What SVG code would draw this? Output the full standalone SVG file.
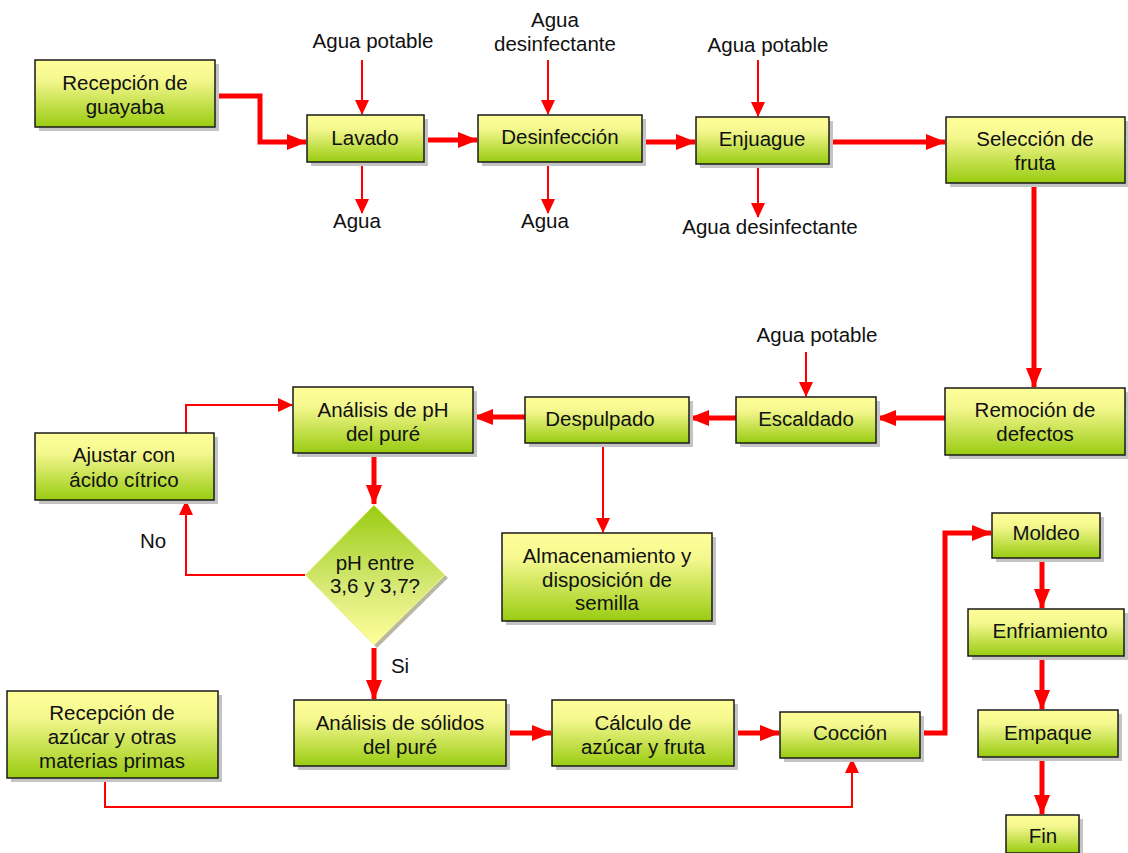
<svg xmlns="http://www.w3.org/2000/svg" width="1128" height="853" viewBox="0 0 1128 853">
<style>
.box{fill:url(#g);stroke:#1a1a1a;stroke-width:1.5}
.sh{fill:#c4c4c4}
text{font-family:"Liberation Sans",Arial,sans-serif;font-size:20.5px;fill:#111;text-anchor:middle}
.thick{fill:none;stroke:#ff0000;stroke-width:5;marker-end:url(#ah)}
.thin{fill:none;stroke:#ff0000;stroke-width:2;marker-end:url(#at)}
</style>
<defs>
<linearGradient id="g" x1="0" y1="0" x2="0" y2="1">
<stop offset="0" stop-color="#ffff99"/>
<stop offset="0.3" stop-color="#f4f78e"/>
<stop offset="1" stop-color="#99cc11"/>
</linearGradient>
<linearGradient id="gd" x1="0" y1="0" x2="0" y2="1">
<stop offset="0" stop-color="#99cc11"/>
<stop offset="0.6" stop-color="#d8ea78"/>
<stop offset="1" stop-color="#ffff99"/>
</linearGradient>
<marker id="ah" markerUnits="userSpaceOnUse" markerWidth="20" markerHeight="16" refX="19" refY="8" orient="auto">
<path d="M0,0 L20,8 L0,16 z" fill="#ff0000"/>
</marker>
<marker id="at" markerUnits="userSpaceOnUse" markerWidth="15" markerHeight="14" refX="14" refY="7" orient="auto">
<path d="M0,0 L15,7 L0,14 z" fill="#ff0000"/>
</marker>
</defs>
<rect width="1128" height="853" fill="#ffffff"/>

<g id="connectors">
<polyline class="thick" points="215,96 260,96 260,142 306,142"/>
<line class="thick" x1="427" y1="140" x2="477" y2="140"/>
<line class="thick" x1="643" y1="142" x2="695" y2="142"/>
<line class="thick" x1="830" y1="142" x2="945" y2="142"/>
<line class="thick" x1="1034" y1="184" x2="1034" y2="387"/>
<line class="thick" x1="945" y1="418" x2="877" y2="418"/>
<line class="thick" x1="736" y1="418" x2="690" y2="418"/>
<line class="thick" x1="525" y1="417" x2="474" y2="417"/>
<line class="thin" x1="603" y1="444" x2="603" y2="532"/>
<line class="thick" x1="374" y1="454" x2="374" y2="504"/>
<polyline class="thin" points="305,575 186,575 186,501"/>
<polyline class="thin" points="186,433 186,405 292,405"/>
<line class="thick" x1="374" y1="648" x2="374" y2="699"/>
<line class="thick" x1="507" y1="733" x2="551" y2="733"/>
<line class="thick" x1="735" y1="733" x2="779" y2="733"/>
<polyline class="thick" points="921,733 945,733 945,533 991,533"/>
<line class="thick" x1="1042" y1="559" x2="1042" y2="608"/>
<line class="thick" x1="1042" y1="657" x2="1042" y2="709"/>
<line class="thick" x1="1042" y1="758" x2="1042" y2="814"/>
<polyline class="thin" points="105,779 105,807 852,807 852,759"/>
<line class="thin" x1="362" y1="60" x2="362" y2="114"/>
<line class="thin" x1="362" y1="163" x2="362" y2="213"/>
<line class="thin" x1="548" y1="60" x2="548" y2="114"/>
<line class="thin" x1="548" y1="163" x2="548" y2="213"/>
<line class="thin" x1="758" y1="60" x2="758" y2="116"/>
<line class="thin" x1="758" y1="165" x2="758" y2="217"/>
<line class="thin" x1="806" y1="352" x2="806" y2="396"/>
</g>

<g id="labels">
<text x="373" y="48">Agua potable</text>
<text x="555" y="27">Agua</text>
<text x="555" y="51">desinfectante</text>
<text x="768" y="52">Agua potable</text>
<text x="357" y="228">Agua</text>
<text x="545" y="228">Agua</text>
<text x="770" y="234">Agua desinfectante</text>
<text x="817" y="342">Agua potable</text>
<text x="153" y="548">No</text>
<text x="400" y="673">Si</text>
</g>

<g id="n-recepcion-guayaba">
<rect class="sh" x="39" y="64" width="180" height="67"/>
<rect class="box" x="35" y="60" width="180" height="67"/>
<text x="125" y="90">Recepción de</text>
<text x="125" y="114">guayaba</text>
</g>
<g id="n-lavado">
<rect class="sh" x="311" y="119" width="117" height="47"/>
<rect class="box" x="307" y="115" width="117" height="47"/>
<text x="365" y="145">Lavado</text>
</g>
<g id="n-desinfeccion">
<rect class="sh" x="482" y="119" width="164" height="47"/>
<rect class="box" x="478" y="115" width="164" height="47"/>
<text x="560" y="144">Desinfección</text>
</g>
<g id="n-enjuague">
<rect class="sh" x="700" y="121" width="133" height="47"/>
<rect class="box" x="696" y="117" width="133" height="47"/>
<text x="762" y="146">Enjuague</text>
</g>
<g id="n-seleccion">
<rect class="sh" x="950" y="121" width="179" height="66"/>
<rect class="box" x="946" y="117" width="179" height="66"/>
<text x="1035" y="146">Selección de</text>
<text x="1035" y="170">fruta</text>
</g>
<g id="n-remocion">
<rect class="sh" x="949" y="392" width="180" height="67"/>
<rect class="box" x="945" y="388" width="180" height="67"/>
<text x="1035" y="417">Remoción de</text>
<text x="1035" y="441">defectos</text>
</g>
<g id="n-escaldado">
<rect class="sh" x="740" y="401" width="140" height="46"/>
<rect class="box" x="736" y="397" width="140" height="46"/>
<text x="806" y="426">Escaldado</text>
</g>
<g id="n-despulpado">
<rect class="sh" x="529" y="401" width="164" height="46"/>
<rect class="box" x="525" y="397" width="164" height="46"/>
<text x="600" y="426">Despulpado</text>
</g>
<g id="n-analisis-ph">
<rect class="sh" x="297" y="391" width="180" height="66"/>
<rect class="box" x="293" y="387" width="180" height="66"/>
<text x="383" y="417">Análisis de pH</text>
<text x="383" y="441">del puré</text>
</g>
<g id="n-almacenamiento">
<rect class="sh" x="506" y="537" width="210" height="88"/>
<rect class="box" x="502" y="533" width="210" height="88"/>
<text x="607" y="563">Almacenamiento y</text>
<text x="607" y="587">disposición de</text>
<text x="607" y="610">semilla</text>
</g>
<g id="n-ajustar">
<rect class="sh" x="39" y="437" width="179" height="67"/>
<rect class="box" x="35" y="433" width="179" height="67"/>
<text x="124" y="462">Ajustar con</text>
<text x="124" y="487">ácido cítrico</text>
</g>
<g id="n-ph-decision">
<polygon points="377,508 448,578 377,648 308,578" fill="#b8b8a0"/>
<polygon points="374,505 445,575 374,645 305,575" fill="url(#gd)" stroke="#f4f7a8" stroke-width="1"/>
<text x="375" y="570">pH entre</text>
<text x="375" y="593">3,6 y 3,7?</text>
</g>
<g id="n-analisis-solidos">
<rect class="sh" x="298" y="704" width="212" height="66"/>
<rect class="box" x="294" y="700" width="212" height="66"/>
<text x="400" y="730">Análisis de sólidos</text>
<text x="400" y="754">del puré</text>
</g>
<g id="n-calculo">
<rect class="sh" x="556" y="704" width="182" height="66"/>
<rect class="box" x="552" y="700" width="182" height="66"/>
<text x="643" y="730">Cálculo de</text>
<text x="643" y="754">azúcar y fruta</text>
</g>
<g id="n-coccion">
<rect class="sh" x="784" y="716" width="140" height="46"/>
<rect class="box" x="780" y="712" width="140" height="46"/>
<text x="850" y="740">Cocción</text>
</g>
<g id="n-moldeo">
<rect class="sh" x="996" y="517" width="108" height="45"/>
<rect class="box" x="992" y="513" width="108" height="45"/>
<text x="1046" y="540">Moldeo</text>
</g>
<g id="n-enfriamiento">
<rect class="sh" x="972" y="613" width="156" height="47"/>
<rect class="box" x="968" y="609" width="156" height="47"/>
<text x="1050" y="638">Enfriamiento</text>
</g>
<g id="n-empaque">
<rect class="sh" x="982" y="714" width="140" height="47"/>
<rect class="box" x="978" y="710" width="140" height="47"/>
<text x="1048" y="740">Empaque</text>
</g>
<g id="n-fin">
<rect class="sh" x="1010" y="819" width="73" height="40"/>
<rect class="box" x="1006" y="815" width="73" height="38"/>
<text x="1043" y="843">Fin</text>
</g>
<g id="n-recepcion-azucar">
<rect class="sh" x="11" y="695" width="211" height="87"/>
<rect class="box" x="7" y="691" width="211" height="87"/>
<text x="112" y="720">Recepción de</text>
<text x="112" y="744">azúcar y otras</text>
<text x="112" y="768">materias primas</text>
</g>
</svg>
